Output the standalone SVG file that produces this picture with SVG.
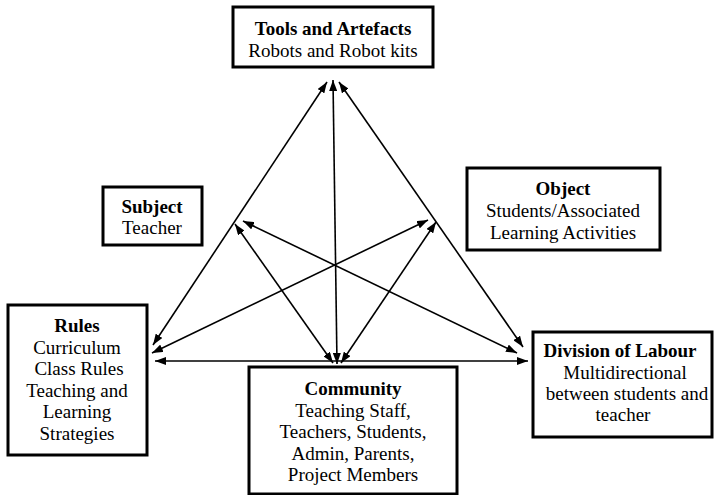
<svg xmlns="http://www.w3.org/2000/svg" width="714" height="495" viewBox="0 0 714 495">
<defs>
<marker id="ah" viewBox="0 0 11 8" refX="11" refY="4" markerWidth="11" markerHeight="8" markerUnits="userSpaceOnUse" orient="auto-start-reverse">
<path d="M0,0 L11,4 L0,8 Z" fill="#000"/>
</marker>
<style>
.box{fill:#fff;stroke:#000;stroke-width:3}
.lbl text{font-size:19px;fill:#000;text-anchor:middle}
.t{font-weight:bold}
.c line{stroke:#000;stroke-width:1.6;marker-start:url(#ah);marker-end:url(#ah)}
</style>
</defs>
<rect width="714" height="495" fill="#fff"/>
<g class="c" id="connectors">
<line x1="327" y1="82" x2="153" y2="345"/>
<line x1="339" y1="82" x2="523" y2="347"/>
<line x1="333" y1="80" x2="337" y2="364"/>
<line x1="155" y1="361" x2="528" y2="361"/>
<line x1="235" y1="224" x2="333" y2="363"/>
<line x1="436" y1="222" x2="341" y2="363"/>
<line x1="243" y1="221" x2="517" y2="353"/>
<line x1="428" y1="220" x2="152" y2="353"/>
</g>
<g class="lbl" font-family="'Liberation Serif', 'Times New Roman', 'DejaVu Serif', serif">
<g id="tools">
<rect class="box" x="233" y="7" width="200" height="60"/>
<text class="t" x="333" y="35">Tools and Artefacts</text>
<text x="333" y="57">Robots and Robot kits</text>
</g>
<g id="subject">
<rect class="box" x="103" y="187" width="99" height="58"/>
<text class="t" x="152" y="213">Subject</text>
<text x="152" y="234">Teacher</text>
</g>
<g id="object">
<rect class="box" x="467" y="168" width="193" height="82"/>
<text class="t" x="563" y="195">Object</text>
<text x="563" y="217">Students/Associated</text>
<text x="563" y="239">Learning Activities</text>
</g>
<g id="rules">
<rect class="box" x="8" y="305" width="139" height="150"/>
<text class="t" x="77" y="332">Rules</text>
<text x="77" y="354">Curriculum</text>
<text x="79" y="375">Class Rules</text>
<text x="77" y="397">Teaching and</text>
<text x="77" y="418">Learning</text>
<text x="77" y="440">Strategies</text>
</g>
<g id="community">
<rect class="box" x="249" y="367" width="208" height="127"/>
<text class="t" x="353" y="395">Community</text>
<text x="353" y="417">Teaching Staff,</text>
<text x="353" y="438">Teachers, Students,</text>
<text x="353" y="460">Admin, Parents,</text>
<text x="353" y="481">Project Members</text>
</g>
<g id="division">
<rect class="box" x="533" y="332" width="179" height="105"/>
<text class="t" x="620" y="357">Division of Labour</text>
<text x="625" y="379">Multidirectional</text>
<text x="627" y="400">between students and</text>
<text x="623" y="421">teacher</text>
</g>
</g>
</svg>
